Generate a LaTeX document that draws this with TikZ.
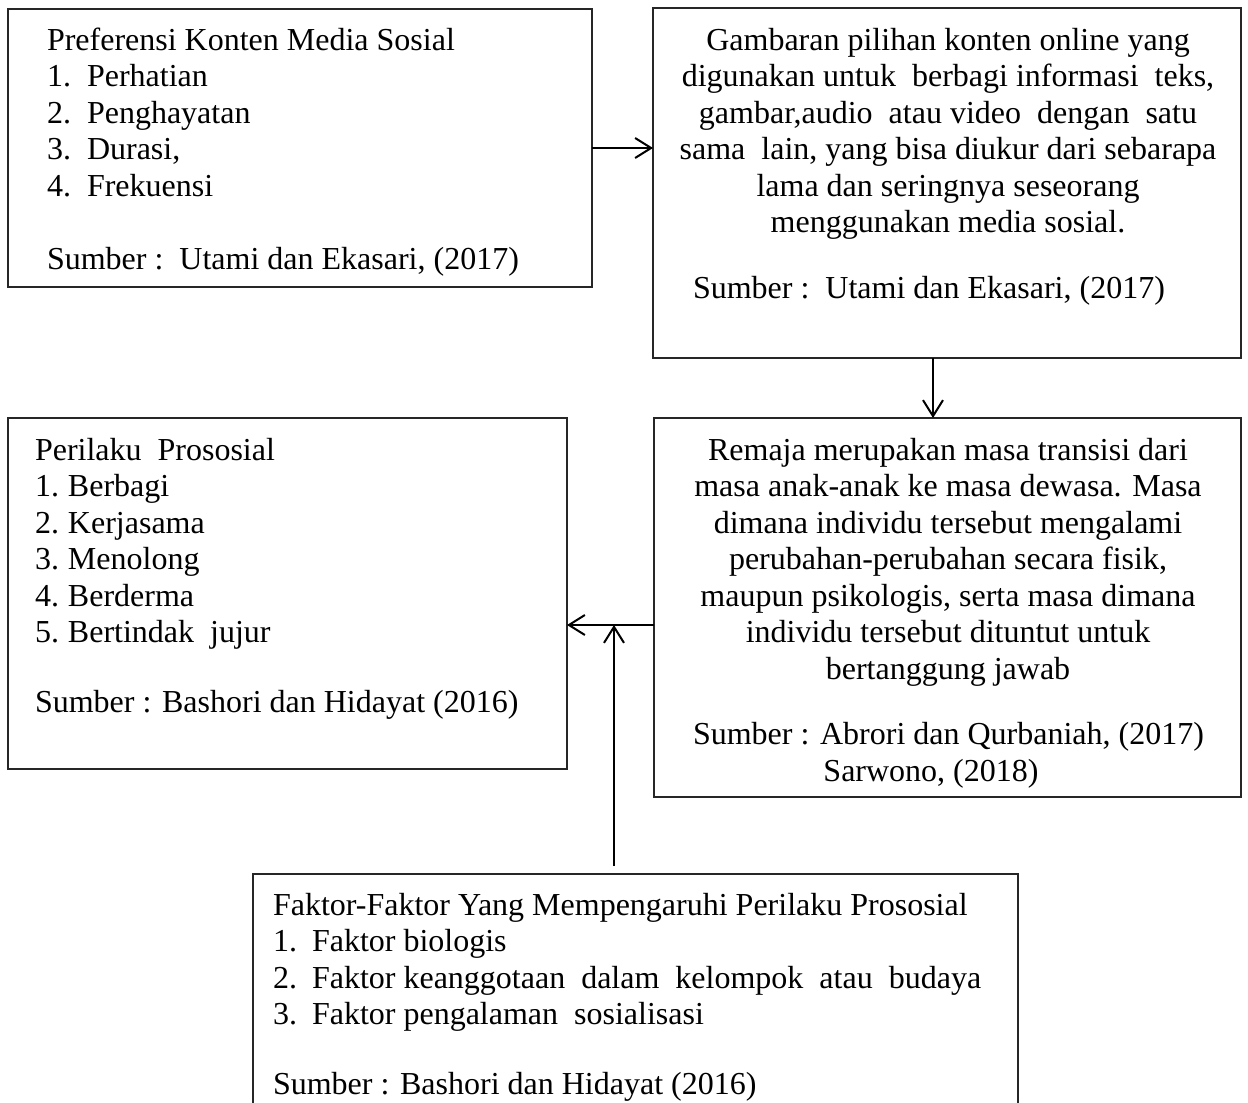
\documentclass[tikz,border=0pt]{standalone}
\usepackage{fontspec}
\setmainfont{Liberation Serif}
\usetikzlibrary{arrows.meta}
\begin{document}
\begin{tikzpicture}[x=0.5pt,y=-0.5pt,
  box/.style={draw=black!85, line width=0.75pt, inner sep=0pt, outer sep=0pt},
  arr/.style={line width=1pt, -{Straight Barb[length=8pt,width=10pt,line width=1pt]}},
  txt/.style={font=\fontsize{16}{18}\selectfont, inner sep=0pt, outer sep=0pt},
  lt/.style={txt, anchor=base west},
  ct/.style={txt, anchor=base}]
\useasboundingbox (0,0) rectangle (1248,1103);
\fill[white] (0,0) rectangle (1248,1103);

% boxes
\node[box, minimum width=292pt, minimum height=139pt] (b1) at (300,148) {};
\node[box, minimum width=294pt, minimum height=175pt] (b2) at (947,183) {};
\node[box, minimum width=293.5pt, minimum height=189.5pt] (b3) at (947.5,607.5) {};
\node[box, minimum width=279.5pt, minimum height=175.5pt] (b4) at (287.5,593.5) {};
\node[inner sep=0pt, outer sep=0pt, minimum width=382.5pt, minimum height=114.5pt] (b5) at (635.5,988.5) {};
\draw[draw=black!85, line width=0.75pt] (b5.south west) -- (b5.north west) -- (b5.north east) -- (b5.south east);

% box 1 text
\node[lt] (t1) at (47,50) {Preferensi Konten Media Sosial};
\foreach \n/\t [count=\i] in {1./Perhatian, 2./Penghayatan, 3./{Durasi,}, 4./Frekuensi}{
  \node[lt] (t1n\i) at (47,{50+36.5*\i}) {\n};
  \node[lt] (t1t\i) at (87,{50+36.5*\i}) {\t};
}
\node[lt] (t1s) at (47,269) {Sumber :\ \ Utami dan Ekasari, (2017)};

% box 2 text
\node[ct] (t2a) at (948,50) {Gambaran pilihan konten online yang};
\node[ct] (t2b) at (948,86.5) {digunakan untuk\ \ berbagi informasi\ \ teks,};
\node[ct] (t2c) at (948,123) {gambar,audio\ \ atau video\ \ dengan\ \ satu};
\node[ct] (t2d) at (948,159.5) {sama\ \ lain, yang bisa diukur dari sebarapa};
\node[ct] (t2e) at (948,196) {lama dan seringnya seseorang};
\node[ct] (t2f) at (948,232.5) {menggunakan media sosial.};
\node[lt] (t2s) at (693,298) {Sumber :\ \ Utami dan Ekasari, (2017)};

% box 3 text
\node[ct] (t3a) at (948,460) {Remaja merupakan masa transisi dari};
\node[ct] (t3b) at (948,496.5) {masa anak-anak ke masa dewasa. Masa};
\node[ct] (t3c) at (948,533) {dimana individu tersebut mengalami};
\node[ct] (t3d) at (948,569.5) {perubahan-perubahan secara fisik,};
\node[ct] (t3e) at (948,606) {maupun psikologis, serta masa dimana};
\node[ct] (t3f) at (948,642.5) {individu tersebut dituntut untuk};
\node[ct] (t3g) at (948,679) {bertanggung jawab};
\node[lt] (t3s) at (693,744) {Sumber : Abrori dan Qurbaniah, (2017)};
\node[ct] (t3r) at (931,781) {Sarwono, (2018)};

% box 4 text
\node[lt] (t4) at (35,460) {Perilaku\ \ Prososial};
\foreach \n/\t [count=\i] in {1./Berbagi, 2./Kerjasama, 3./Menolong, 4./Berderma, 5./{Bertindak\ \ jujur}}{
  \node[lt] (t4n\i) at (35,{460+36.5*\i}) {\n};
  \node[lt] (t4t\i) at (68,{460+36.5*\i}) {\t};
}
\node[lt] (t4s) at (35,712) {Sumber : Bashori dan Hidayat (2016)};

% box 5 text
\node[lt] (t5) at (273,915) {Faktor-Faktor Yang Mempengaruhi Perilaku Prososial};
\node[lt] (t5n1) at (273,951.5) {1.};
\node[lt] (t5t1) at (312,951.5) {Faktor biologis};
\node[lt] (t5n2) at (273,988) {2.};
\node[lt] (t5t2) at (312,988) {Faktor keanggotaan\ \ dalam\ \ kelompok\ \ atau\ \ budaya};
\node[lt] (t5n3) at (273,1024.5) {3.};
\node[lt] (t5t3) at (312,1024.5) {Faktor pengalaman\ \ sosialisasi};
\node[lt] (t5s) at (273,1094) {Sumber : Bashori dan Hidayat (2016)};

% connectors
\coordinate (dx) at (933,0);
\coordinate (jn) at (614,625);
\draw[arr] (b1.east) -- (b1.east -| b2.west);
\draw[arr] (b2.south -| dx) -- (b3.north -| dx);
\draw[arr] (b3.west |- jn) -- (b4.east |- jn);
\draw[arr, shorten <=4pt] (b5.north -| jn) -- (jn);
\end{tikzpicture}
\end{document}
